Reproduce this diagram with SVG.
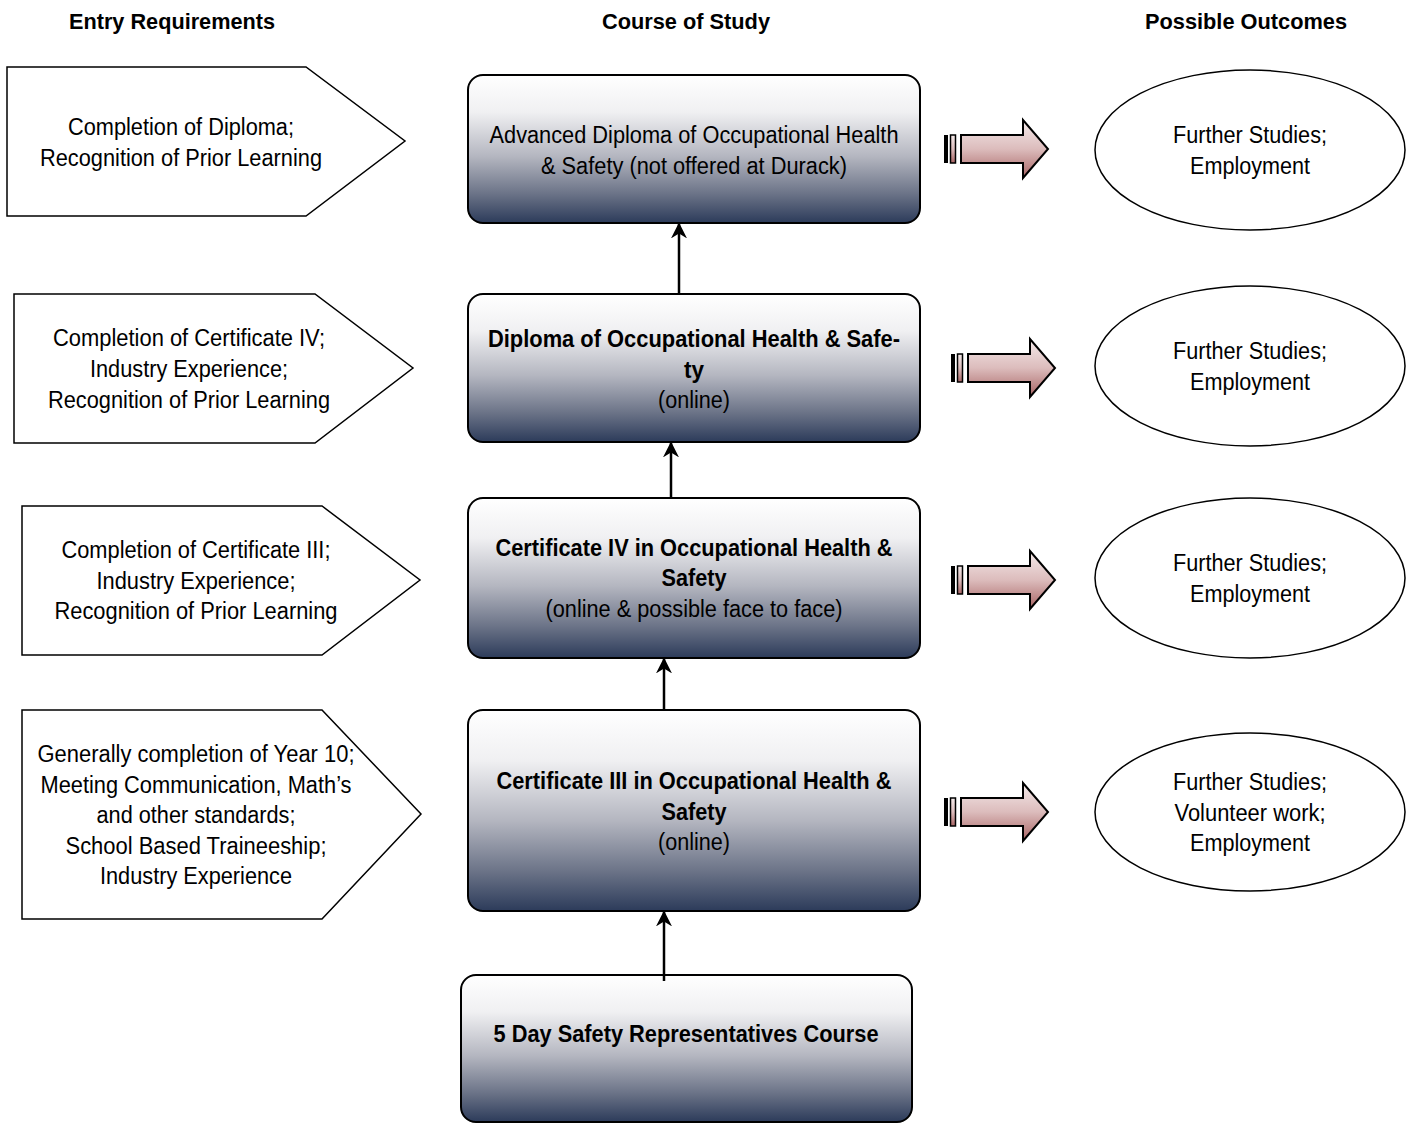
<svg xmlns="http://www.w3.org/2000/svg" width="1411" height="1123" viewBox="0 0 1411 1123">
<defs>
<linearGradient id="boxg" x1="0" y1="0" x2="0" y2="1">
<stop offset="0" stop-color="#ffffff"/>
<stop offset="0.25" stop-color="#f0f0f2"/>
<stop offset="0.55" stop-color="#b4b6c0"/>
<stop offset="0.8" stop-color="#6c7488"/>
<stop offset="1" stop-color="#2c3b5a"/>
</linearGradient>
<linearGradient id="arrg" x1="0" y1="0" x2="0" y2="1">
<stop offset="0" stop-color="#f4eaea"/>
<stop offset="0.5" stop-color="#dcbcbc"/>
<stop offset="1" stop-color="#a86464"/>
</linearGradient>
<marker id="ah" viewBox="0 0 10 10" refX="9" refY="5" markerWidth="16" markerHeight="16" orient="auto" markerUnits="userSpaceOnUse">
<path d="M0,0 L10,5 L0,10 L3,5 Z" fill="#000"/>
</marker>
<g id="blk">
<rect x="0" y="-14" width="4" height="28" fill="#000"/>
<rect x="6.5" y="-14" width="5" height="28" fill="url(#arrg)" stroke="#000" stroke-width="1.5"/>
<path d="M17,-14 L79,-14 L79,-29 L104,0 L79,29 L79,14 L17,14 Z" fill="url(#arrg)" stroke="#000" stroke-width="2" stroke-linejoin="miter"/>
</g>
</defs>
<style>
.t{font-family:"Liberation Sans",Arial,sans-serif;font-size:23px;fill:#000;text-anchor:middle}
.b{font-weight:bold}
.h{font-family:"Liberation Sans",Arial,sans-serif;font-size:22px;font-weight:bold;fill:#000;text-anchor:middle}
.pent{fill:#fff;stroke:#000;stroke-width:1.5}
.box{fill:url(#boxg);stroke:#000;stroke-width:2}
.ell{fill:#fff;stroke:#000;stroke-width:1.5}
.con{stroke:#000;stroke-width:2.5;fill:none}
</style>
<rect width="1411" height="1123" fill="#fff"/>
<g id="headers">
<text class="h" x="172" y="29" textLength="206" lengthAdjust="spacingAndGlyphs">Entry Requirements</text>
<text class="h" x="686" y="29" textLength="168" lengthAdjust="spacingAndGlyphs">Course of Study</text>
<text class="h" x="1246" y="29" textLength="202" lengthAdjust="spacingAndGlyphs">Possible Outcomes</text>
</g>
<g id="entry1">
<path class="pent" d="M7,67 L306,67 L405,141 L306,216 L7,216 Z"/>
<text class="t" x="181" y="135" textLength="226" lengthAdjust="spacingAndGlyphs">Completion of Diploma;</text>
<text class="t" x="181" y="166" textLength="282" lengthAdjust="spacingAndGlyphs">Recognition of Prior Learning</text>
</g>
<g id="entry2">
<path class="pent" d="M14,294 L315,294 L413,368 L315,443 L14,443 Z"/>
<text class="t" x="189" y="346" textLength="272" lengthAdjust="spacingAndGlyphs">Completion of Certificate IV;</text>
<text class="t" x="189" y="377" textLength="198" lengthAdjust="spacingAndGlyphs">Industry Experience;</text>
<text class="t" x="189" y="408" textLength="282" lengthAdjust="spacingAndGlyphs">Recognition of Prior Learning</text>
</g>
<g id="entry3">
<path class="pent" d="M22,506 L322,506 L420,580 L322,655 L22,655 Z"/>
<text class="t" x="196" y="558" textLength="269" lengthAdjust="spacingAndGlyphs">Completion of Certificate III;</text>
<text class="t" x="196" y="589" textLength="199" lengthAdjust="spacingAndGlyphs">Industry Experience;</text>
<text class="t" x="196" y="619" textLength="283" lengthAdjust="spacingAndGlyphs">Recognition of Prior Learning</text>
</g>
<g id="entry4">
<path class="pent" d="M22,710 L322,710 L421,814 L322,919 L22,919 Z"/>
<text class="t" x="196" y="762" textLength="317" lengthAdjust="spacingAndGlyphs">Generally completion of Year 10;</text>
<text class="t" x="196" y="793" textLength="311" lengthAdjust="spacingAndGlyphs">Meeting Communication, Math’s</text>
<text class="t" x="196" y="823" textLength="199" lengthAdjust="spacingAndGlyphs">and other standards;</text>
<text class="t" x="196" y="854" textLength="261" lengthAdjust="spacingAndGlyphs">School Based Traineeship;</text>
<text class="t" x="196" y="884" textLength="192" lengthAdjust="spacingAndGlyphs">Industry Experience</text>
</g>
<g id="course1">
<rect class="box" x="468" y="75" width="452" height="148" rx="15"/>
<text class="t" x="694" y="143" textLength="409" lengthAdjust="spacingAndGlyphs">Advanced Diploma of Occupational Health</text>
<text class="t" x="694" y="174" textLength="306" lengthAdjust="spacingAndGlyphs">&amp; Safety (not offered at Durack)</text>
</g>
<g id="course2">
<rect class="box" x="468" y="294" width="452" height="148" rx="15"/>
<text class="t b" x="694" y="347" textLength="412" lengthAdjust="spacingAndGlyphs">Diploma of Occupational Health &amp; Safe-</text>
<text class="t b" x="694" y="378" textLength="20" lengthAdjust="spacingAndGlyphs">ty</text>
<text class="t" x="694" y="408" textLength="72" lengthAdjust="spacingAndGlyphs">(online)</text>
</g>
<g id="course3">
<rect class="box" x="468" y="498" width="452" height="160" rx="15"/>
<text class="t b" x="694" y="556" textLength="397" lengthAdjust="spacingAndGlyphs">Certificate IV in Occupational Health &amp;</text>
<text class="t b" x="694" y="586" textLength="65" lengthAdjust="spacingAndGlyphs">Safety</text>
<text class="t" x="694" y="617" textLength="297" lengthAdjust="spacingAndGlyphs">(online &amp; possible face to face)</text>
</g>
<g id="course4">
<rect class="box" x="468" y="710" width="452" height="201" rx="15"/>
<text class="t b" x="694" y="789" textLength="395" lengthAdjust="spacingAndGlyphs">Certificate III in Occupational Health &amp;</text>
<text class="t b" x="694" y="820" textLength="65" lengthAdjust="spacingAndGlyphs">Safety</text>
<text class="t" x="694" y="850" textLength="72" lengthAdjust="spacingAndGlyphs">(online)</text>
</g>
<g id="course5">
<rect class="box" x="461" y="975" width="451" height="147" rx="15"/>
<text class="t b" x="686" y="1042" textLength="385" lengthAdjust="spacingAndGlyphs">5 Day Safety Representatives Course</text>
</g>
<g id="outcome1">
<ellipse class="ell" cx="1250" cy="150" rx="155" ry="80"/>
<text class="t" x="1250" y="143" textLength="154" lengthAdjust="spacingAndGlyphs">Further Studies;</text>
<text class="t" x="1250" y="174" textLength="120" lengthAdjust="spacingAndGlyphs">Employment</text>
</g>
<g id="outcome2">
<ellipse class="ell" cx="1250" cy="366" rx="155" ry="80"/>
<text class="t" x="1250" y="359" textLength="154" lengthAdjust="spacingAndGlyphs">Further Studies;</text>
<text class="t" x="1250" y="390" textLength="120" lengthAdjust="spacingAndGlyphs">Employment</text>
</g>
<g id="outcome3">
<ellipse class="ell" cx="1250" cy="578" rx="155" ry="80"/>
<text class="t" x="1250" y="571" textLength="154" lengthAdjust="spacingAndGlyphs">Further Studies;</text>
<text class="t" x="1250" y="602" textLength="120" lengthAdjust="spacingAndGlyphs">Employment</text>
</g>
<g id="outcome4">
<ellipse class="ell" cx="1250" cy="812" rx="155" ry="79"/>
<text class="t" x="1250" y="790" textLength="154" lengthAdjust="spacingAndGlyphs">Further Studies;</text>
<text class="t" x="1250" y="821" textLength="151" lengthAdjust="spacingAndGlyphs">Volunteer work;</text>
<text class="t" x="1250" y="851" textLength="120" lengthAdjust="spacingAndGlyphs">Employment</text>
</g>
<g id="connectors">
<line class="con" x1="679" y1="294" x2="679" y2="224" marker-end="url(#ah)"/>
<line class="con" x1="671" y1="498" x2="671" y2="443" marker-end="url(#ah)"/>
<line class="con" x1="664" y1="710" x2="664" y2="659" marker-end="url(#ah)"/>
<line class="con" x1="664" y1="981" x2="664" y2="912" marker-end="url(#ah)"/>
<use href="#blk" x="944" y="149"/>
<use href="#blk" x="951" y="368"/>
<use href="#blk" x="951" y="580"/>
<use href="#blk" x="944" y="812"/>
</g>
</svg>
